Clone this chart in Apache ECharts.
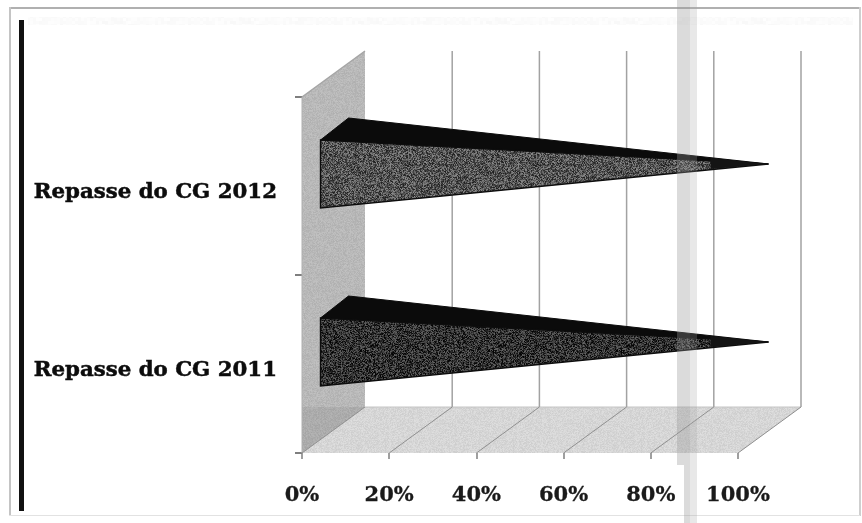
<!DOCTYPE html>
<html><head><meta charset="utf-8">
<style>html,body{margin:0;padding:0;background:#fff}#c{width:862px;height:523px}</style>
<script src="https://cdn.jsdelivr.net/npm/echarts@6/dist/echarts.min.js"></script>
</head><body><div id="c"></div>
<script>
const categories = ['Repasse do CG 2011', 'Repasse do CG 2012'];
const repasseValues = [100, 100];
const tickValues = [0, 20, 40, 60, 80, 100];
const axisMin = 0, axisMax = 100, axisStep = 20;

// look of the fake 3D box
const DX = 63, DY = -46;

function speckle(base, spread, seed, alpha, cell) {
  const s = 128, cv = document.createElement('canvas');
  cv.width = cv.height = s;
  const g = cv.getContext('2d');
  let h = seed >>> 0;
  for (let y = 0; y < s; y += cell) {
    for (let x = 0; x < s; x += cell) {
      h = (Math.imul(h, 1664525) + 1013904223) >>> 0;
      const t = ((h >>> 16) & 255) / 255;
      const v = Math.round(Math.max(0, Math.min(255, base + (t - 0.5) * spread)));
      g.fillStyle = 'rgba(' + v + ',' + v + ',' + v + ',' + alpha + ')';
      g.fillRect(x, y, cell, cell);
    }
  }
  return { image: cv, repeat: 'repeat' };
}
const wallFill = speckle(184, 18, 7, 1, 1);
const wallLowFill = speckle(172, 16, 11, 1, 1);
const floorFill = speckle(214, 18, 17, 1, 1);
const faceFills = [speckle(50, 100, 23, 1, 1), speckle(84, 110, 31, 1, 1)];
const smudge = speckle(225, 40, 41, 0.4, 3);

const chart = echarts.init(document.getElementById('c'), null, { renderer: 'canvas' });

function renderBox(params, api) {
  const o = api.coord([axisMin, 0]), e = api.coord([axisMax, 0]);
  const band = api.size([0, 1])[1];
  const x0 = o[0], x1 = e[0];
  const yB = o[1] + band / 2, yT = yB - band * categories.length;
  const children = [
    { type: 'polygon', shape: { points: [[x0, yT], [x0 + DX, yT + DY], [x0 + DX, yB + DY], [x0, yB]] }, style: { fill: wallFill } },
    { type: 'polygon', shape: { points: [[x0, yB + DY], [x0 + DX, yB + DY], [x0, yB]] }, style: { fill: wallLowFill } },
    { type: 'polygon', shape: { points: [[x0, yB], [x0 + DX, yB + DY], [x1 + DX, yB + DY], [x1, yB]] }, style: { fill: floorFill } },
    { type: 'line', shape: { x1: x0, y1: yT, x2: x0 + DX, y2: yT + DY }, style: { stroke: '#a5a5a5', lineWidth: 1.5 } },
    { type: 'line', shape: { x1: x0 + DX, y1: yB + DY, x2: x1 + DX, y2: yB + DY }, style: { stroke: '#c4c4c4', lineWidth: 1 } },
    { type: 'line', shape: { x1: x0, y1: yT, x2: x0, y2: yB }, style: { stroke: '#b0b0b0', lineWidth: 1 } }
  ];
  return { type: 'group', children };
}

function renderGrid(params, api) {
  const p = api.coord([api.value(0), 0]);
  const o = api.coord([axisMin, 0]);
  const band = api.size([0, 1])[1];
  const yB = o[1] + band / 2, yT = yB - band * categories.length;
  const x = p[0];
  const kids = [
    { type: 'line', shape: { x1: x, y1: yB, x2: x + DX, y2: yB + DY }, style: { stroke: '#8f8f8f', lineWidth: 1 } }
  ];
  if (api.value(0) > axisMin) {
    kids.push({ type: 'line', shape: { x1: x + DX, y1: yT + DY, x2: x + DX, y2: yB + DY }, style: { stroke: '#a2a2a2', lineWidth: 1.5 } });
  }
  return { type: 'group', children: kids };
}

function renderPyramid(params, api) {
  const idx = api.value(1);
  const o = api.coord([axisMin, idx]);
  const v = api.coord([api.value(0), idx]);
  const band = api.size([0, 1])[1];
  const half = band * 0.191;
  const apex = [v[0] + DX / 2 - 1, v[1] + DY / 2 + 1];
  const fx = o[0] + DX / 2 - 13, fy = o[1] + DY / 2 + 11;
  const ft = [fx, fy - half], fb = [fx, fy + half], bt = [fx + 28, fy - half - 22];
  return {
    type: 'group',
    children: [
      { type: 'polygon', shape: { points: [ft, bt, apex] }, style: { fill: '#0b0b0b', stroke: '#0b0b0b', lineWidth: 1 } },
      { type: 'polygon', shape: { points: [ft, fb, apex] }, style: { fill: faceFills[idx], stroke: '#0d0d0d', lineWidth: 1.4 } },
      { type: 'polygon', shape: { points: [[apex[0] - 58, apex[1] - 6], [apex[0] - 58, apex[1] + 5], apex] }, style: { fill: '#141414' } }
    ]
  };
}

chart.setOption({
  animation: false,
  backgroundColor: '#ffffff',
  grid: { left: 302, right: 124, top: 97, bottom: 70, containLabel: false },
  xAxis: {
    type: 'value', min: axisMin, max: axisMax, interval: axisStep,
    splitLine: { show: false },
    axisLine: { show: false },
    axisTick: { show: true, length: 6, lineStyle: { color: '#808080', width: 1.5 } },
    axisLabel: { formatter: '{value}%', margin: 32, color: '#1a1a1a', fontFamily: 'DejaVu Serif', fontWeight: 'bold', fontSize: 21, textBorderColor: '#1a1a1a', textBorderWidth: 0.3 }
  },
  yAxis: {
    type: 'category', data: categories,
    axisLine: { show: false },
    axisTick: { show: true, length: 7, lineStyle: { color: '#555', width: 1.5 } },
    axisLabel: { margin: 25, color: '#0c0c0c', fontFamily: 'DejaVu Serif', fontWeight: 'bold', fontSize: 21.3, verticalAlign: 'top', lineHeight: 12, textBorderColor: '#0c0c0c', textBorderWidth: 0.5 }
  },
  series: [
    { type: 'custom', name: 'box', z: 1, silent: true, clip: false, renderItem: renderBox, data: [[0]] },
    { type: 'custom', name: 'grid', z: 2, silent: true, clip: false, renderItem: renderGrid, data: tickValues.map(t => [t]) },
    { type: 'custom', name: 'Repasse', z: 3, silent: true, clip: false, renderItem: renderPyramid,
      encode: { x: 0, y: 1 }, data: repasseValues.map((v, i) => [v, i]) }
  ],
  graphic: [
    { type: 'rect', z: 20, silent: true, shape: { x: 9, y: 7, width: 851, height: 2 }, style: { fill: '#b0b0b0' } },
    { type: 'rect', z: 20, silent: true, shape: { x: 9, y: 7, width: 2, height: 509 }, style: { fill: '#c4c4c4' } },
    { type: 'rect', z: 20, silent: true, shape: { x: 859, y: 7, width: 2, height: 509 }, style: { fill: '#cfcfcf' } },
    { type: 'rect', z: 20, silent: true, shape: { x: 9, y: 515, width: 851, height: 1 }, style: { fill: '#e2e2e2' } },
    { type: 'rect', z: 20, silent: true, shape: { x: 19, y: 20, width: 5, height: 491 }, style: { fill: '#111' } },
    { type: 'rect', z: 19, silent: true, shape: { x: 28, y: 17, width: 825, height: 8 }, style: { fill: smudge, opacity: 0.35 } },
    { type: 'rect', z: 20, silent: true, shape: { x: 677, y: 0, width: 13, height: 465 }, style: { fill: 'rgba(150,150,150,0.34)' } },
    { type: 'rect', z: 20, silent: true, shape: { x: 690, y: 0, width: 7, height: 465 }, style: { fill: 'rgba(165,165,165,0.25)' } },
    { type: 'rect', z: 20, silent: true, shape: { x: 684, y: 465, width: 6, height: 58 }, style: { fill: 'rgba(150,150,150,0.34)' } },
    { type: 'rect', z: 20, silent: true, shape: { x: 690, y: 465, width: 7, height: 58 }, style: { fill: 'rgba(165,165,165,0.25)' } }
  ]
});
</script></body></html>
